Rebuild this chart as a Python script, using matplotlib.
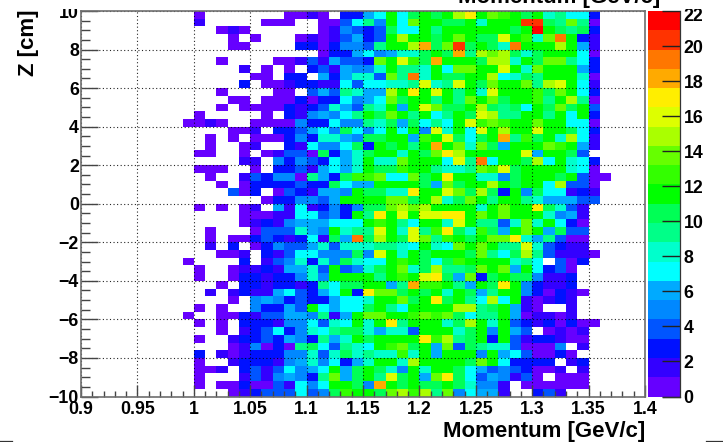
import numpy as np
import matplotlib
matplotlib.use("Agg")
import matplotlib.pyplot as plt
from matplotlib.colors import ListedColormap, BoundaryNorm
from matplotlib.lines import Line2D
from matplotlib.ticker import MultipleLocator
from matplotlib.transforms import Bbox, IdentityTransform, TransformedBbox, ScaledTranslation

plt.rcParams['font.family'] = ['Liberation Sans', 'DejaVu Sans']
plt.rcParams['font.weight'] = 'bold'

W, H = 723, 442

p_min, p_max, n_p = 0.9, 1.4, 50
z_min, z_max, n_z = -10.0, 10.0, 50
first_bin = 9  # first listed column is p = 0.99

# counts per bin, rows from top (z = 10) to bottom (z = -10), columns from p = 0.99
row_00 = [0,1,0,0,0,0,0,0,0,1,1,2,1,0,3,3, 6,7,12,7,10,11,10,12,15,17,12,14,13,11,10,12,8,9,7,7,3]
row_01 = [0,2,0,0,0,0,0,1,1,1,0,0,1,1,4,7, 9,5,12,7,14,12,12,10,10,11,8,12,12,12,20,20,10,9,14,9,1]
row_02 = [0,0,0,1,2,1,0,0,0,0,0,0,1,2,5,4, 3,4,10,7,7,11,9,12,12,12,12,12,11,10,12,22,12,10,9,10,3]
row_03 = [0,0,0,0,1,0,1,0,0,0,1,2,1,2,4,6, 3,4,11,15,11,11,10,11,14,12,10,10,16,11,13,8,14,19,12,3,2]
row_04 = [0,0,0,0,1,1,0,0,0,0,3,3,1,3,5,5, 4,9,12,11,15,18,10,14,20,10,12,10,8,19,12,12,12,15,12,6,2]
row_05 = [0,0,0,0,0,0,0,0,0,0,0,0,1,3,3,6, 7,5,6,8,8,10,11,10,18,9,15,14,15,10,8,10,12,12,12,7,1]
row_06 = [0,0,0,1,0,0,0,0,1,1,2,4,2,6,4,4, 3,14,12,16,13,10,18,12,11,11,10,15,15,8,12,10,14,14,9,7,3]
row_07 = [0,0,0,0,0,2,0,1,0,1,0,3,4,2,6,5, 5,8,11,9,9,8,12,7,14,14,12,12,16,12,8,14,12,11,11,6,3]
row_08 = [0,0,0,0,0,0,1,1,0,3,3,0,6,3,6,8, 8,4,14,9,19,8,11,10,10,12,12,15,7,8,10,9,12,12,11,8,1]
row_09 = [0,0,0,0,0,3,0,1,1,2,3,3,2,2,7,4, 7,7,8,8,9,16,8,9,16,12,10,14,11,11,14,9,15,16,11,7,2]
row_10 = [0,0,0,1,0,0,0,0,1,1,0,4,6,4,9,8, 6,6,15,12,17,12,16,12,9,11,8,16,11,11,11,13,10,14,12,7,3]
row_11 = [0,0,0,0,1,1,0,1,1,1,3,1,3,3,7,5, 6,7,14,10,12,12,9,12,9,14,11,14,10,12,12,13,9,12,15,9,1]
row_12 = [0,0,0,1,0,1,1,1,1,3,2,3,4,8,6,4, 9,8,12,6,12,16,14,10,10,11,15,10,9,10,7,11,10,14,10,12,4]
row_13 = [0,1,0,0,0,0,0,1,0,3,2,5,6,5,7,9, 12,10,14,12,9,12,7,9,12,10,16,15,9,9,12,12,9,11,7,12,3]
row_14 = [1,1,2,1,0,0,1,1,1,1,5,3,3,7,5,5, 9,8,10,6,10,7,9,7,12,16,13,14,13,11,11,14,11,12,7,7,1]
row_15 = [0,0,0,0,1,1,2,0,3,3,4,6,7,5,10,7, 5,7,12,7,12,5,16,8,12,7,16,11,15,12,11,16,12,12,10,7,3]
row_16 = [0,0,1,0,1,0,1,1,1,3,5,3,8,8,6,5, 10,10,12,11,6,13,12,16,10,7,10,12,18,9,13,10,12,8,15,7,2]
row_17 = [0,0,1,0,0,1,2,0,0,3,2,7,5,5,7,10, 3,12,10,12,9,12,18,12,14,8,14,10,6,12,12,12,14,13,12,6,2]
row_18 = [0,1,1,0,0,1,0,1,2,4,4,1,10,3,6,8, 10,12,12,8,12,10,14,17,15,12,12,12,12,12,16,6,12,12,10,4,0]
row_19 = [0,0,0,0,0,2,2,0,5,3,5,4,3,7,6,8, 12,8,8,14,12,12,11,7,16,9,19,7,12,12,10,15,7,12,8,7,3]
row_20 = [0,1,1,1,0,0,1,0,3,3,4,2,6,7,6,8, 12,10,10,13,11,12,9,8,8,9,14,13,16,10,12,11,11,11,8,7,1]
row_21 = [0,0,1,0,0,2,4,3,5,5,1,9,6,3,10,13, 13,14,7,7,14,10,12,17,12,12,8,8,5,10,12,11,12,10,12,4,1,1]
row_22 = [0,0,0,1,0,1,3,3,3,3,4,3,3,10,7,6, 6,12,12,12,12,10,6,14,10,12,11,15,12,10,11,12,7,15,4,4,1]
row_23 = [0,0,0,0,4,1,3,0,1,4,3,2,6,6,5,11, 10,10,8,8,17,11,12,16,14,10,15,10,3,12,5,10,7,7,2,3,2]
row_24 = [0,0,0,0,0,0,0,1,3,3,5,5,4,6,12,12, 12,12,14,14,10,11,15,8,10,14,12,9,12,11,9,8,6,6,6,4,4]
row_25 = [0,1,0,1,0,1,2,0,6,2,7,2,3,5,3,5, 10,10,14,15,14,15,11,12,11,11,8,12,14,12,11,17,10,8,4,2]
row_26 = [0,0,0,0,0,1,1,1,2,2,7,7,4,5,3,12, 9,17,11,16,11,16,16,17,17,12,14,11,14,12,12,12,8,5,6,2]
row_27 = [0,0,0,0,0,1,2,3,2,5,6,6,6,7,7,7, 11,13,12,9,7,12,12,8,16,12,9,9,4,8,14,8,12,7,3,1]
row_28 = [0,0,1,0,0,0,1,4,4,4,8,6,5,12,8,9, 9,16,12,8,16,9,13,17,10,8,13,10,6,12,14,11,6,10,4,4]
row_29 = [0,0,1,0,1,1,3,4,3,2,3,7,2,10,6,19, 10,15,12,10,16,14,9,13,12,10,12,14,14,17,8,6,9,4,1,1]
row_30 = [0,0,2,0,3,0,1,3,5,4,4,6,8,4,8,8, 8,9,9,8,7,12,8,7,14,12,14,11,9,9,16,8,4,3,2,2]
row_31 = [0,0,0,1,1,2,0,3,2,4,7,7,5,5,5,10, 5,16,12,8,12,10,11,12,11,10,14,9,7,10,15,9,4,2,2,2,1]
row_32 = [1,0,0,0,0,3,0,2,4,5,8,3,8,5,10,8, 7,7,12,13,11,10,7,10,13,12,11,12,11,8,9,7,0,4,1,3]
row_33 = [0,1,0,0,1,2,2,3,2,6,6,8,4,11,4,5, 8,10,12,14,8,10,15,9,9,10,14,12,14,6,12,7,3,4,1,0]
row_34 = [0,1,0,0,1,3,3,2,3,3,5,8,5,12,11,11, 11,9,12,13,12,16,17,10,6,14,3,10,12,10,10,5,2,2,3,0]
row_35 = [0,0,0,1,0,3,3,2,3,3,2,3,9,7,10,10, 11,11,6,9,18,13,13,11,9,6,11,10,17,11,5,3,2,2,3,0]
row_36 = [0,0,2,0,2,3,2,2,6,7,4,3,6,7,11,3, 17,14,14,10,11,10,12,8,12,10,6,9,12,11,5,3,1,3,2,1]
row_37 = [0,0,0,0,1,0,5,6,5,3,4,3,3,6,7,7, 8,11,12,14,10,12,17,10,11,9,7,15,7,12,2,1,2,3,2,0]
row_38 = [0,1,0,1,0,0,5,3,3,6,4,12,7,6,7,7, 10,11,9,7,11,12,12,12,15,15,9,10,12,6,2,1,0,0,2,0]
row_39 = [1,0,0,1,1,3,2,4,4,6,6,5,9,2,6,12, 14,14,12,11,13,14,13,14,10,7,9,9,12,6,1,2,2,1,2,0]
row_40 = [0,1,0,1,0,3,3,3,2,5,5,7,4,8,7,11, 8,12,17,9,11,12,12,8,10,15,11,8,12,4,3,2,3,1,3,1,1]
row_41 = [0,0,0,1,0,2,3,4,7,3,5,8,7,9,10,10, 8,6,8,8,4,11,12,12,8,10,11,5,12,6,4,0,1,2,1,2]
row_42 = [0,1,0,0,2,3,3,4,3,6,5,3,9,6,8,11, 10,11,11,12,12,17,13,15,9,10,11,3,12,4,2,3,3,2,1,1]
row_43 = [0,0,0,0,1,2,5,1,3,1,9,10,7,4,9,8, 7,11,13,14,10,11,6,14,4,10,9,8,8,4,1,1,1,5,0,2]
row_44 = [0,3,0,2,1,2,3,3,3,5,5,8,4,8,10,8, 9,8,8,13,8,12,6,12,12,11,5,11,6,7,4,1,1,3,1,0]
row_45 = [0,1,0,0,2,3,3,3,2,5,6,8,5,7,3,6, 8,11,11,8,15,12,12,12,11,10,14,12,7,3,3,3,3,0,2,3]
row_46 = [0,1,1,2,0,3,4,2,4,7,5,6,7,12,6,10, 12,10,8,5,11,8,12,12,10,7,6,4,5,4,3,1,1,2,0,2]
row_47 = [0,1,0,0,0,2,4,2,5,6,5,3,9,14,6,10, 12,9,16,10,12,6,14,17,10,7,4,6,5,2,4,1,0,1,1,1]
row_48 = [0,1,0,1,1,3,1,1,4,2,7,5,7,11,12,10, 5,18,12,10,12,10,10,12,10,8,5,5,2,0,1,1,1,1,1,1]
row_49 = [0,0,0,0,1,2,3,4,4,4,7,4,5,10,13,11, 11,10,14,15,13,15,9,14,5,7,6,6,2,0,0,3,4,2,0,0]

rows = [row_00,row_01,row_02,row_03,row_04,row_05,row_06,row_07,row_08,row_09,
        row_10,row_11,row_12,row_13,row_14,row_15,row_16,row_17,row_18,row_19,
        row_20,row_21,row_22,row_23,row_24,row_25,row_26,row_27,row_28,row_29,
        row_30,row_31,row_32,row_33,row_34,row_35,row_36,row_37,row_38,row_39,
        row_40,row_41,row_42,row_43,row_44,row_45,row_46,row_47,row_48,row_49]

palette = ['#6600ff','#3300ff','#0011ff','#0055ff','#0088ff','#00aaff','#00ffff',
           '#00ffcc','#00ff88','#00ff55','#00ff00','#33ff00','#66ff00','#aaff00',
           '#ddff00','#ffee00','#ffaa00','#ff7700','#ff3300','#ff0000']
z_max_count = 22.0

counts = np.zeros((n_z, n_p))
for r, vals in enumerate(rows):
    counts[n_z - 1 - r, first_bin:first_bin + len(vals)] = vals
masked = np.ma.masked_equal(counts, 0)

p_edges = np.linspace(p_min, p_max, n_p + 1)
z_edges = np.linspace(z_min, z_max, n_z + 1)

cmap = ListedColormap(palette)
cmap.set_bad('white')
levels = np.linspace(0, z_max_count, len(palette) + 1)
levels[-1] += 1e-6
norm = BoundaryNorm(levels, cmap.N)

fig = plt.figure(figsize=(W / 100, H / 100), dpi=100, facecolor='white')


def box(x0, x1, y0, y1):
    return [x0 / W, 1 - y1 / H, (x1 - x0) / W, (y1 - y0) / H]


ax = fig.add_axes(box(81, 645, 11, 396.5))
mesh = ax.pcolormesh(p_edges, z_edges, masked, cmap=cmap, norm=norm,
                     shading='flat', antialiased=False, zorder=1)
ax.set_xlim(p_min, p_max)
ax.set_ylim(z_min, z_max)

ax.xaxis.set_major_locator(MultipleLocator(0.05))
ax.xaxis.set_minor_locator(MultipleLocator(0.01))
ax.yaxis.set_major_locator(MultipleLocator(2))
ax.yaxis.set_minor_locator(MultipleLocator(0.5))
ax.set_xticks(np.round(np.arange(0.9, 1.401, 0.05), 2))
ax.set_xticklabels(['0.9', '0.95', '1', '1.05', '1.1', '1.15', '1.2', '1.25', '1.3', '1.35', '1.4'])
ax.grid(True, which='major', color='black', linestyle=(0, (1, 2.2)), linewidth=0.8,
        alpha=0.85, zorder=3)
ax.set_axisbelow(False)

ax.tick_params(axis='x', which='major', direction='in', length=8.5, width=1.0,
               color='#444444', labelsize=12.8, pad=3.5, zorder=4)
ax.tick_params(axis='x', which='minor', direction='in', length=4.5, width=1.0, color='#444444')
ax.tick_params(axis='y', which='major', direction='in', length=12.5, width=1.0,
               color='#444444', labelsize=12.8, pad=1.5, zorder=4)
ax.tick_params(axis='y', which='minor', direction='in', length=6.5, width=1.0, color='#444444')
for s in ax.spines.values():
    s.set_color('#6e6e6e')
    s.set_linewidth(1.2)
    s.set_zorder(5)

fig.text(645 / W, 1 - 437 / H, 'Momentum [GeV/c]', ha='right', va='baseline',
         fontsize=16, fontweight='bold')
fig.text(39 / W, 1 - 10 / H, 'Z [cm]', rotation=90, ha='right', va='top',
         fontsize=16, fontweight='bold')
fig.text(660 / W, 1 - 3 / H, 'Momentum [GeV/c]', ha='right', va='baseline',
         fontsize=16, fontweight='bold')

cax = fig.add_axes(box(648, 680, 11, 396.5))
cb = fig.colorbar(mesh, cax=cax, spacing='proportional', drawedges=False)
cb.set_ticks(np.arange(0, 23, 2))
cb.ax.set_yticklabels([str(v) for v in range(0, 23, 2)])
cb.ax.tick_params(axis='y', which='both', direction='in', right=True, left=False,
                  length=13, width=1.0, color='#222222', labelsize=12.8, pad=2.5)
cb.ax.minorticks_off()
cb.outline.set_visible(False)

# the topmost labels are cut off just above the frame in the reference
keep = TransformedBbox(Bbox([[0, 0], [W, H - 9]]), IdentityTransform())
top_z = ax.get_yticklabels()[-1]
for t, lab in zip(ax.get_yticks(), ax.get_yticklabels()):
    if abs(t - z_max) < 1e-6:
        lab.set_clip_box(keep)
        lab.set_clip_on(True)
top_bar = cb.ax.get_yticklabels()[-1]
top_bar.set_transform(top_bar.get_transform() + ScaledTranslation(0, -3 / 100, fig.dpi_scale_trans))
top_bar.set_clip_box(keep)
top_bar.set_clip_on(True)

edge_lines = [((680, 680), (11, 396.5)), ((663, 680), (396.5, 396.5)),
              ((0, 12), (441, 441)), ((706, 723), (441, 441))]
for xs, ys in edge_lines:
    fig.add_artist(Line2D([x / W for x in xs], [1 - y / H for y in ys],
                          color='#333333', linewidth=0.9))

fig.savefig('out.png', dpi=100)
